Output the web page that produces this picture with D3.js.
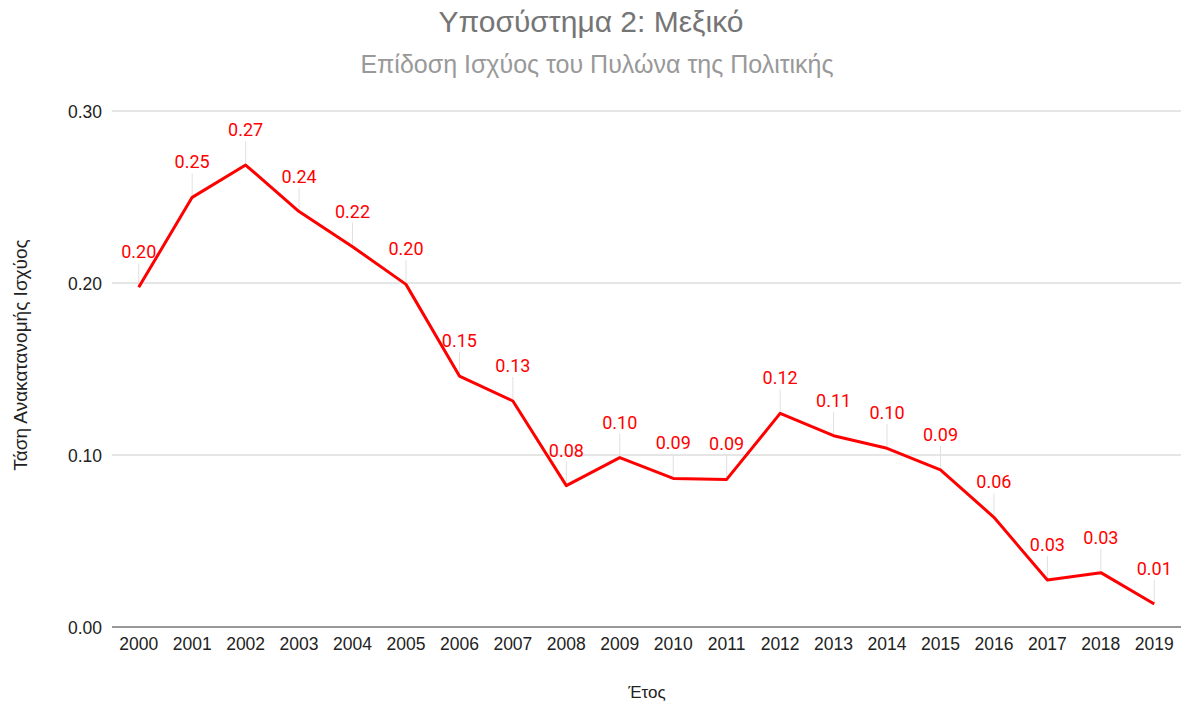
<!DOCTYPE html>
<html>
<head>
<meta charset="utf-8">
<script src="https://cdn.jsdelivr.net/npm/d3@7"></script>
<style>
  body { margin: 0; background: #fff; }
  svg { font-family: "Liberation Sans", Arial, sans-serif; }
  .axis path { display: none; }
  .axis line { stroke: none; }
  .axis text { fill: #222; font-size: 17.5px; font-family: "Liberation Sans", Arial, sans-serif; }
</style>
</head>
<body>
<svg width="1182" height="707"></svg>
<script>
var years = ["2000","2001","2002","2003","2004","2005","2006","2007","2008","2009",
             "2010","2011","2012","2013","2014","2015","2016","2017","2018","2019"];
var values = [0.1975, 0.2498, 0.2686, 0.2415, 0.2211, 0.1992, 0.1459, 0.1314, 0.0822, 0.0985,
              0.0864, 0.0858, 0.1242, 0.1112, 0.1039, 0.0913, 0.0638, 0.0273, 0.0316, 0.0134];
var yTicks = [0, 0.1, 0.2, 0.3];

var svg = d3.select("svg"),
    margin = {top: 111, right: 1, bottom: 80, left: 112},
    width = +svg.attr("width") - margin.left - margin.right,
    height = +svg.attr("height") - margin.top - margin.bottom;

var data = years.map(function(y, i) { return {year: y, value: values[i]}; });

var x = d3.scaleBand().domain(years).range([0, width]),
    y = d3.scaleLinear().domain([0, 0.3]).range([height, 0]);

var g = svg.append("g")
    .attr("transform", "translate(" + margin.left + "," + margin.top + ")");

// gridlines
g.selectAll(".grid")
  .data(yTicks)
  .enter().append("line")
    .attr("class", "grid")
    .attr("x1", 0)
    .attr("x2", width)
    .attr("y1", function(d) { return y(d); })
    .attr("y2", function(d) { return y(d); })
    .attr("stroke", function(d) { return d === 0 ? "#333" : "#ccc"; })
    .attr("stroke-width", 1);

g.append("g")
    .attr("class", "axis")
    .call(d3.axisLeft(y).tickValues(yTicks).tickFormat(d3.format(".2f")).tickSize(0).tickPadding(10))
    .selectAll("text").attr("dy", "0.35em");

g.append("g")
    .attr("class", "axis")
    .attr("transform", "translate(0," + height + ")")
    .call(d3.axisBottom(x).tickSize(0).tickPadding(11));

// leader lines for labels
g.selectAll(".leader")
  .data(data)
  .enter().append("line")
    .attr("class", "leader")
    .attr("x1", function(d) { return x(d.year) + x.bandwidth() / 2; })
    .attr("x2", function(d) { return x(d.year) + x.bandwidth() / 2; })
    .attr("y1", function(d) { return y(d.value) - 2; })
    .attr("y2", function(d) { return y(d.value) - 24; })
    .attr("stroke", "#e0e0e0")
    .attr("stroke-width", 1);

var line = d3.line()
    .x(function(d) { return x(d.year) + x.bandwidth() / 2; })
    .y(function(d) { return y(d.value); });

g.append("path")
    .datum(data)
    .attr("fill", "none")
    .attr("stroke", "#ff0000")
    .attr("stroke-width", 3)
    .attr("stroke-linejoin", "round")
    .attr("d", line);

g.selectAll(".lbl")
  .data(data)
  .enter().append("text")
    .attr("class", "lbl")
    .attr("x", function(d) { return x(d.year) + x.bandwidth() / 2; })
    .attr("y", function(d) { return y(d.value) - 29; })
    .attr("text-anchor", "middle")
    .attr("fill", "#ff0000")
    .style("font-size", "18px")
    .style("font-family", "Roboto, sans-serif")
    .text(function(d) { return d3.format(".2f")(d.value); });

// titles
svg.append("text")
    .attr("x", 591).attr("y", 32)
    .attr("text-anchor", "middle")
    .attr("fill", "#757575")
    .style("font-size", "30px")
    .text("Υποσύστημα 2: Μεξικό");

svg.append("text")
    .attr("x", 597).attr("y", 73)
    .attr("text-anchor", "middle")
    .attr("fill", "#999")
    .style("font-size", "25px")
    .text("Επίδοση Ισχύος του Πυλώνα της Πολιτικής");

svg.append("text")
    .attr("x", 647).attr("y", 698)
    .attr("text-anchor", "middle")
    .attr("fill", "#222")
    .style("font-size", "17px")
    .text("Έτος");

svg.append("text")
    .attr("transform", "translate(27,355) rotate(-90)")
    .attr("text-anchor", "middle")
    .attr("fill", "#222")
    .style("font-size", "19px")
    .text("Τάση Ανακατανομής Ισχύος");
</script>
</body>
</html>
